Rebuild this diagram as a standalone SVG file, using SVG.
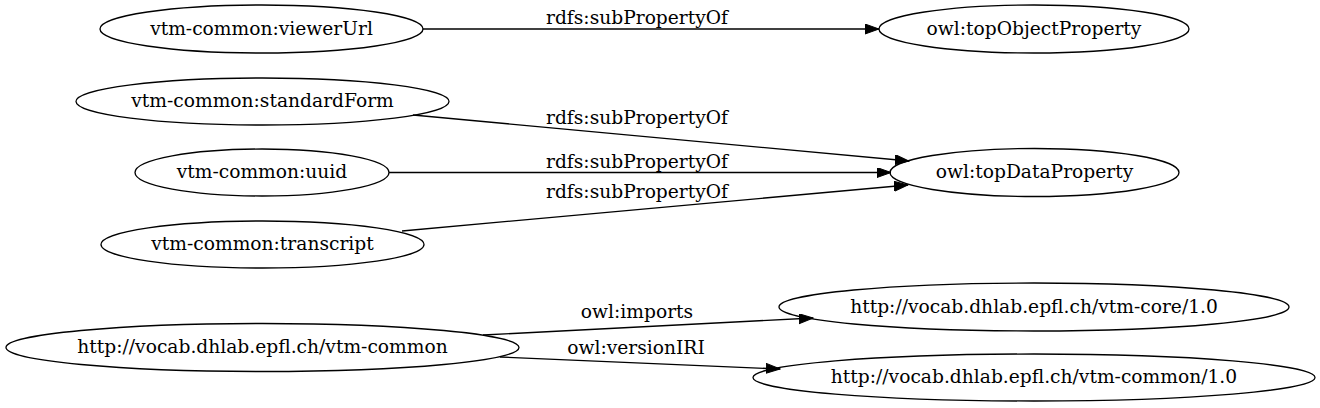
<svg xmlns="http://www.w3.org/2000/svg" width="1320" height="408" viewBox="0 0 1320 408">
<style>
.node ellipse { fill: none; stroke: #000; stroke-width: 1.33; }
text { font-family: "DejaVu Serif", "Liberation Serif", serif; font-size: 18.67px; fill: #000; text-anchor: middle; }
.edge line { stroke: #000; stroke-width: 1.33; }
</style>
<defs>
<marker id="arr" markerUnits="userSpaceOnUse" markerWidth="15" markerHeight="11" refX="14" refY="5" orient="auto">
<path d="M0,0 L14,5 L0,10 z" fill="#000" stroke="#000" stroke-width="1"/>
</marker>
</defs>
<rect width="1320" height="408" fill="#fff"/>
<g id="edges" class="edge">
<line x1="423" y1="29" x2="879" y2="29" marker-end="url(#arr)"/>
<text x="637" y="24">rdfs:subPropertyOf</text>
<line x1="413" y1="115" x2="909" y2="161" marker-end="url(#arr)"/>
<text x="637" y="124">rdfs:subPropertyOf</text>
<line x1="389" y1="172.5" x2="891" y2="172.5" marker-end="url(#arr)"/>
<text x="637" y="168">rdfs:subPropertyOf</text>
<line x1="402" y1="231" x2="908" y2="185" marker-end="url(#arr)"/>
<text x="637" y="198">rdfs:subPropertyOf</text>
<line x1="483" y1="335" x2="813" y2="318" marker-end="url(#arr)"/>
<text x="637" y="318">owl:imports</text>
<line x1="500" y1="357" x2="780" y2="369" marker-end="url(#arr)"/>
<text x="636" y="354">owl:versionIRI</text>
</g>
<g id="n-viewerUrl" class="node"><ellipse cx="261.5" cy="29" rx="161.5" ry="24"/><text x="261.5" y="34.6">vtm-common:viewerUrl</text></g>
<g id="n-topObjectProperty" class="node"><ellipse cx="1034" cy="29" rx="155" ry="24"/><text x="1034" y="34.6">owl:topObjectProperty</text></g>
<g id="n-standardForm" class="node"><ellipse cx="262.5" cy="101.5" rx="186.5" ry="23.5"/><text x="262.5" y="107.1">vtm-common:standardForm</text></g>
<g id="n-uuid" class="node"><ellipse cx="262" cy="172.5" rx="127" ry="23.5"/><text x="262" y="178.1">vtm-common:uuid</text></g>
<g id="n-transcript" class="node"><ellipse cx="262.5" cy="244.5" rx="161.5" ry="23.5"/><text x="262.5" y="250.1">vtm-common:transcript</text></g>
<g id="n-topDataProperty" class="node"><ellipse cx="1034.5" cy="172.5" rx="144.5" ry="24"/><text x="1034.5" y="178.1">owl:topDataProperty</text></g>
<g id="n-vtm-common" class="node"><ellipse cx="262.5" cy="347.5" rx="256.5" ry="24"/><text x="262.5" y="353.1">http://vocab.dhlab.epfl.ch/vtm-common</text></g>
<g id="n-vtm-core-1.0" class="node"><ellipse cx="1034" cy="307" rx="255" ry="24"/><text x="1034" y="312.6">http://vocab.dhlab.epfl.ch/vtm-core/1.0</text></g>
<g id="n-vtm-common-1.0" class="node"><ellipse cx="1034" cy="377.5" rx="281" ry="23.5"/><text x="1034" y="383.1">http://vocab.dhlab.epfl.ch/vtm-common/1.0</text></g>
</svg>
